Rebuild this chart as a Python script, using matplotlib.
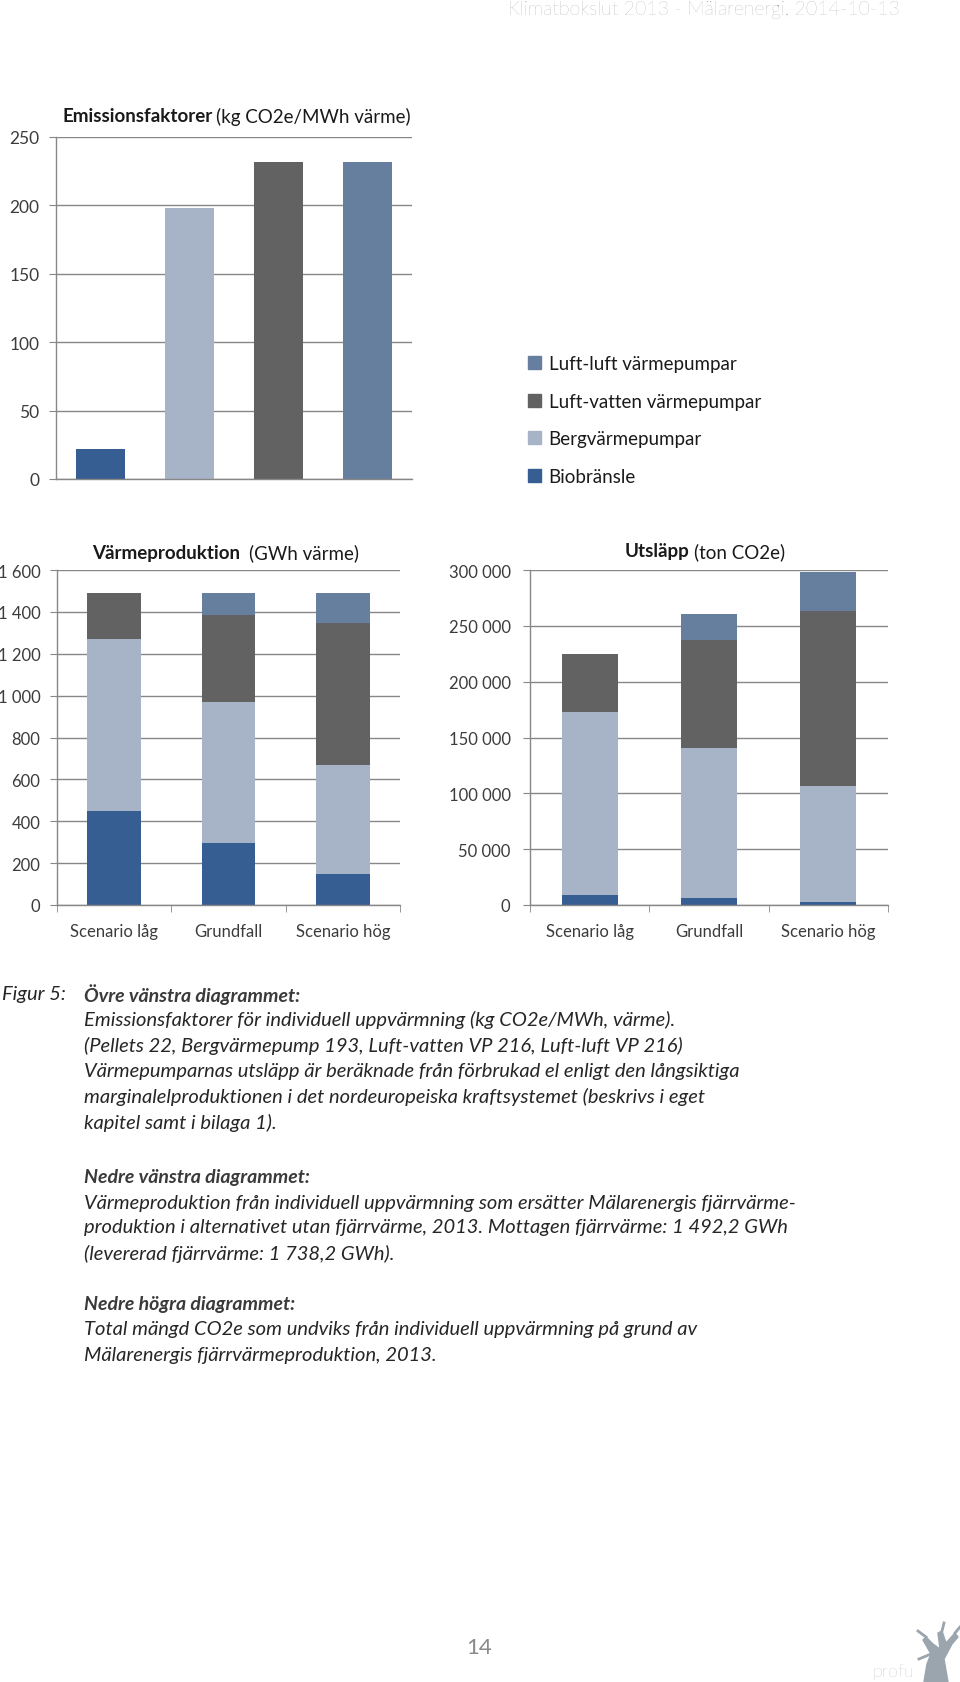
import matplotlib.pyplot as plt
from matplotlib.patches import Patch, Polygon
from matplotlib.lines import Line2D
from matplotlib.ticker import FuncFormatter, MultipleLocator
import numpy as np

# data
sources = ['Biobränsle', 'Bergvärmepumpar', 'Luft-vatten värmepumpar', 'Luft-luft värmepumpar']
colors = ['#375E92', '#A7B4C8', '#626262', '#677F9E']
emission_factor = [22, 198, 232, 232]

scenarios = ['Scenario låg', 'Grundfall', 'Scenario hög']
prod_bio = [447, 298, 150]
prod_berg = [822, 671, 519]
prod_lv = [223, 416, 676]
prod_ll = [0, 107, 147]

utsl_bio = [9200, 6300, 2400]
utsl_berg = [163300, 134000, 103900]
utsl_lv = [52600, 96700, 157000]
utsl_ll = [0, 23900, 34600]

W, H = 960, 1683
plt.rcParams['font.family'] = ['Lato', 'DejaVu Sans']
fig = plt.figure(figsize=(W / 100, H / 100), dpi=100)

GRID = '#878787'
LBL = '#3c3c3c'
TXT = '#1a1a1a'


def fy(px):
    return 1 - px / H


def add_ax(x0, x1, y0, y1):
    return fig.add_axes([x0 / W, 1 - y1 / H, (x1 - x0) / W, (y1 - y0) / H])


def style(ax, ymax, step, size):
    for s in ['top', 'right']:
        ax.spines[s].set_visible(False)
    for s in ['left', 'bottom']:
        ax.spines[s].set_color(GRID)
        ax.spines[s].set_linewidth(1)
    ax.set_ylim(0, ymax)
    ax.yaxis.set_major_locator(MultipleLocator(step))
    ax.grid(axis='y', color=GRID, lw=1)
    ax.set_axisbelow(True)
    ax.tick_params(axis='y', length=5, color=GRID, labelsize=size,
                   labelcolor=LBL, pad=7)


def thousands(v, pos):
    return f'{int(v):,}'.replace(',', ' ')


def title(x, y, bold, normal, gap):
    t = fig.text(x / W, fy(y), bold, fontsize=13.5, weight='bold', color=TXT,
                 va='center')
    fig.canvas.draw()
    bb = t.get_window_extent()
    fig.text((bb.x1 + gap) / W, fy(y), normal, fontsize=13.5, color=TXT,
             va='center')


# top chart: emission factors
ax1 = add_ax(56, 412, 138, 480)
x = np.arange(len(sources))
ax1.bar(x, emission_factor, width=0.55, color=colors)
ax1.set_xlim(-0.5, 3.5)
style(ax1, 250, 50, 12.5)
ax1.set_xticks([])
title(62, 117, 'Emissionsfaktorer', '(kg CO2e/MWh värme)', 4)

handles = [Patch(color=c, label=l) for c, l in zip(colors, sources)][::-1]
fig.legend(handles=handles, loc='upper left', bbox_to_anchor=(528 / W, fy(356)),
           frameon=False, fontsize=13.5, handlelength=0.7, handleheight=0.7,
           handletextpad=0.4, labelspacing=1.1, borderaxespad=0, borderpad=0,
           labelcolor=TXT)


def stacked(ax, parts, width):
    xs = np.arange(len(scenarios))
    bottom = np.zeros(len(scenarios))
    for vals, c in zip(parts, colors):
        ax.bar(xs, vals, width=width, bottom=bottom, color=c)
        bottom += np.array(vals)
    ax.set_xlim(-0.5, len(scenarios) - 0.5)
    ax.set_xticks(xs)
    ax.set_xticklabels(scenarios)
    ax.set_xticks(np.arange(len(scenarios) + 1) - 0.5, minor=True)
    ax.tick_params(axis='x', which='major', length=0, labelsize=12,
                   labelcolor=LBL, pad=13)
    ax.tick_params(axis='x', which='minor', length=5, color=GRID)


ax2 = add_ax(57, 400, 571, 906)
stacked(ax2, [prod_bio, prod_berg, prod_lv, prod_ll], 0.47)
style(ax2, 1600, 200, 12)
ax2.yaxis.set_major_formatter(FuncFormatter(thousands))
title(92, 553, 'Värmeproduktion', '(GWh värme)', 9)

ax3 = add_ax(530, 888, 571, 906)
stacked(ax3, [utsl_bio, utsl_berg, utsl_lv, utsl_ll], 0.47)
style(ax3, 300000, 50000, 12)
ax3.yaxis.set_major_formatter(FuncFormatter(thousands))
ax3.tick_params(axis='y', pad=9)
title(625, 552, 'Utsläpp', '(ton CO2e)', 4)

# header
fig.text(900 / W, fy(10), 'Klimatbokslut 2013 - Mälarenergi, 2014-10-13',
         fontsize=14, weight='light', color='#939393', ha='right', va='center')

# caption
CAP = '#262626'
HEAD = '#3a3a3a'
fig.text(2 / W, fy(995), 'Figur 5:', fontsize=14.5, style='italic', color=CAP,
         va='center')
caption = [
    (995, 'Övre vänstra diagrammet:', True),
    (1020, 'Emissionsfaktorer för individuell uppvärmning (kg CO2e/MWh, värme).', False),
    (1046, '(Pellets 22, Bergvärmepump 193, Luft-vatten VP 216, Luft-luft VP 216)', False),
    (1072, 'Värmepumparnas utsläpp är beräknade från förbrukad el enligt den långsiktiga', False),
    (1097, 'marginalelproduktionen i det nordeuropeiska kraftsystemet (beskrivs i eget', False),
    (1123, 'kapitel samt i bilaga 1).', False),
    (1178, 'Nedre vänstra diagrammet:', True),
    (1203, 'Värmeproduktion från individuell uppvärmning som ersätter Mälarenergis fjärrvärme-', False),
    (1228, 'produktion i alternativet utan fjärrvärme, 2013. Mottagen fjärrvärme: 1 492,2 GWh', False),
    (1254, '(levererad fjärrvärme: 1 738,2 GWh).', False),
    (1305, 'Nedre högra diagrammet:', True),
    (1330, 'Total mängd CO2e som undviks från individuell uppvärmning på grund av', False),
    (1356, 'Mälarenergis fjärrvärmeproduktion, 2013.', False),
]
for y, txt, head in caption:
    fig.text(84 / W, fy(y), txt, fontsize=14 if head else 14.5, style='italic',
             weight='bold' if head else 'normal', color=HEAD if head else CAP,
             va='center')

# footer
fig.text(479 / W, fy(1648), '14', fontsize=16, color='#8a8a8a', ha='center',
         va='center')
fig.text(872 / W, fy(1672), 'profu', fontsize=13, weight='light', color='#9aa3aa',
         va='center')

TREE = '#9aa5ae'
trunk = [(924, 1683), (948, 1683), (944, 1660), (952, 1645), (958, 1638),
         (955, 1634), (946, 1644), (942, 1632), (938, 1634), (940, 1650),
         (933, 1645), (926, 1638), (923, 1641), (931, 1655), (927, 1665)]
fig.add_artist(Polygon([(px / W, fy(py)) for px, py in trunk], closed=True,
                       color=TREE, transform=fig.transFigure))
for (ax_, ay_), (bx_, by_) in [((926, 1638), (918, 1632)), ((942, 1632), (944, 1624)),
                               ((955, 1634), (960, 1628)), ((931, 1655), (919, 1660))]:
    fig.add_artist(Line2D([ax_ / W, bx_ / W], [fy(ay_), fy(by_)], color=TREE, lw=2,
                          transform=fig.transFigure))

fig.savefig('out.png', dpi=100)
